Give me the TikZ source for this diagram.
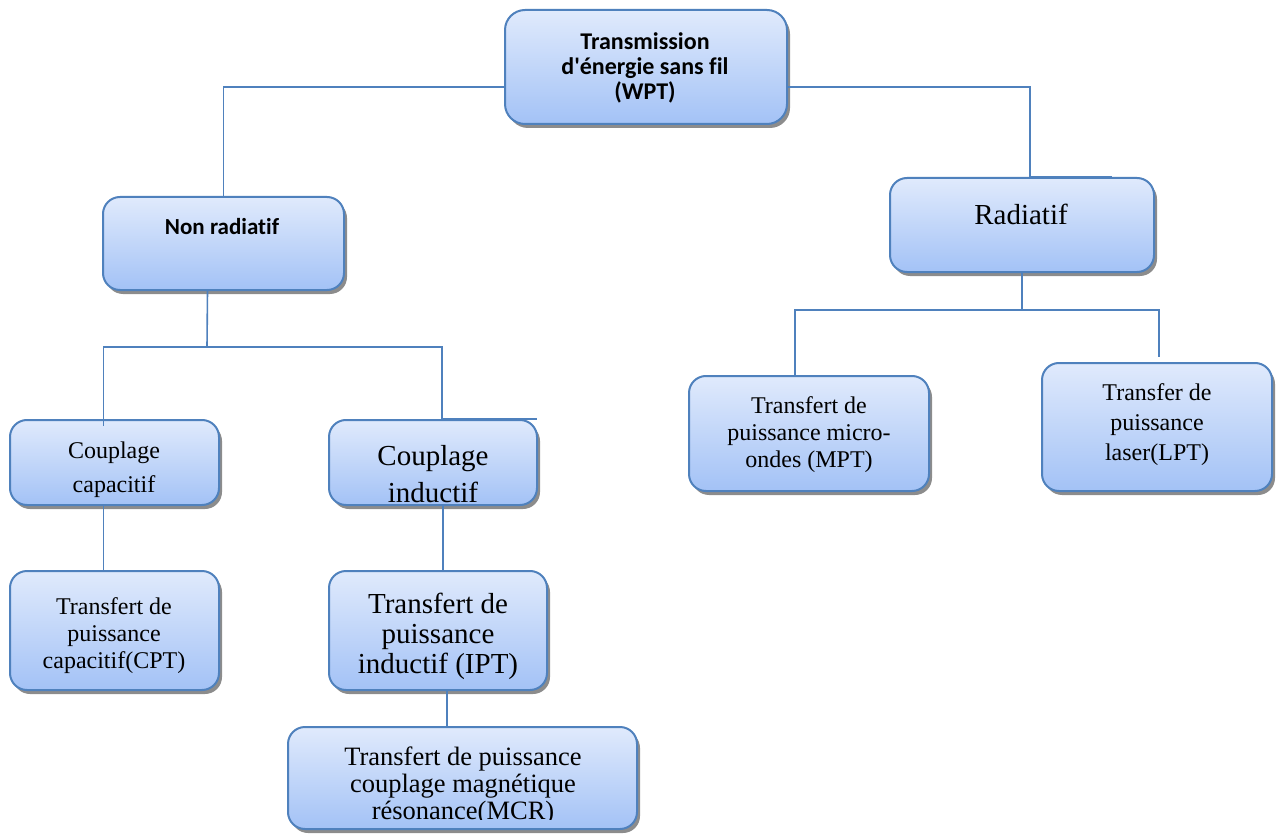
\documentclass[tikz,border=0pt]{standalone}
\usepackage{fontspec}
\setmainfont{Liberation Serif}
\newfontfamily\calib[Ligatures=NoCommon]{Carlito}
\usetikzlibrary{shadows}
\definecolor{edge}{RGB}{79,129,189}
\definecolor{topfill}{RGB}{224,234,252}
\definecolor{botfill}{RGB}{163,194,246}
\tikzset{
  box/.style 2 args={draw=edge, line width=2pt, rounded corners=17pt,
    top color=topfill, bottom color=botfill,
    drop shadow={shadow xshift=3pt, shadow yshift=-4pt, fill=black, opacity=0.45},
    inner sep=0pt, minimum width=#1pt, minimum height=#2pt},
  wire/.style={draw=edge, line width=1.6pt},
  lbl/.style={align=center, inner sep=0pt},
}
\begin{document}
\begin{tikzpicture}[x=1pt, y=-1pt]
\useasboundingbox[fill=white] (0,0) rectangle (1280,837);

% boxes
\node[box={282}{114}, rounded corners=20pt] (wpt) at (646,67) {};
\node[box={241}{93}] (nr)  at (223.5,243.5) {};
\node[box={264}{94}] (rad) at (1022,225) {};
\node[box={209}{85}] (cc)  at (114.5,462.5) {};
\node[box={208}{85}] (ci)  at (433,462.5) {};
\node[box={240}{115}] (mpt) at (809,433.5) {};
\node[box={230}{128}] (lpt) at (1157,427) {};
\node[box={209}{119}] (cpt) at (114.5,630.5) {};
\node[box={218}{119}] (ipt) at (438,630.5) {};
\node[box={349}{102}] (mcr) at (462.5,778) {};

% texts
\node[lbl, font=\calib\bfseries\fontsize{24}{25}\selectfont] at (645,68)
  {Transmission\\d'énergie sans fil\\(WPT)};
\node[lbl, font=\calib\bfseries\fontsize{23}{25}\selectfont] at (222,227) {Non radiatif};
\node[lbl, font=\fontsize{29}{31}\selectfont] at (1021,214) {Radiatif};
\node[lbl, font=\fontsize{24}{34}\selectfont] at (114,470) {Couplage\\capacitif};
\node[lbl, font=\fontsize{29}{37}\selectfont] at (433,474) {Couplage\\inductif};
\node[lbl, font=\fontsize{24}{27}\selectfont] at (809,435) {Transfert de\\puissance micro-\\ondes (MPT)};
\node[lbl, font=\fontsize{24}{30}\selectfont] at (1157,425) {Transfer de\\puissance\\laser(LPT)};
\node[lbl, font=\fontsize{24}{27}\selectfont] at (114,636) {Transfert de\\puissance\\capacitif(CPT)};
\node[lbl, font=\fontsize{29}{30}\selectfont] at (438,636) {Transfert de\\puissance\\inductif (IPT)};
% the last line of this box is cut off by its text area
\begin{scope}
  \clip (288,727) rectangle (637,819);
  \node[lbl, font=\fontsize{26.5}{27}\selectfont] at (463,786)
    {Transfert de puissance\\couplage magnétique\\résonance(MCR)};
\end{scope}

% junction points
\coordinate (nsplit) at (207,347);
\coordinate (rsplit) at (1022,310);

% connectors
\draw[wire] ([yshift=-20pt]wpt.west) -| (nr.north);
\draw[wire] ([yshift=-20pt]wpt.east) -| ([xshift=8pt]rad.north);
\draw[wire] ([xshift=8pt]rad.north) -- ([xshift=90pt]rad.north);
\draw[wire] ([xshift=-16pt]nr.south) -- (nsplit);
\draw[wire] ([xshift=-11pt,yshift=-7pt]cc.north) |- (nsplit) -| ([xshift=9pt]ci.north);
\draw[wire] ([xshift=9pt]ci.north) -- ([xshift=104pt]ci.north);
\draw[wire] ([xshift=-11pt]cc.south) -- ([xshift=-11pt]cc.south |- cpt.north);
\draw[wire] ([xshift=10pt]ci.south) -- ([xshift=10pt]ci.south |- ipt.north);
\draw[wire] ([xshift=9pt]ipt.south) -- ([xshift=9pt]ipt.south |- mcr.north);
\draw[wire] (rad.south) -- (rsplit);
\draw[wire] ([xshift=-14pt]mpt.north) |- (rsplit) -| ([xshift=2pt,yshift=5pt]lpt.north);
\end{tikzpicture}
\end{document}
